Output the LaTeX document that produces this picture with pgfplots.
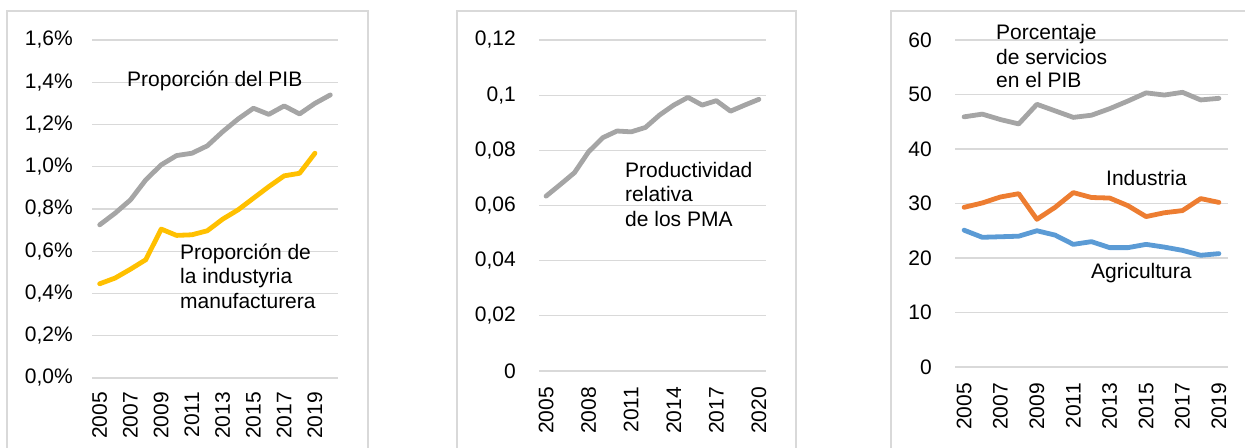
\documentclass[border=0pt]{standalone}
\usepackage{pgfplots}
\pgfplotsset{compat=1.18}
\usepackage{fontspec}
\setmainfont{Liberation Sans}
\definecolor{gridc}{RGB}{217,217,217}
\definecolor{sgrey}{RGB}{165,165,165}
\definecolor{syellow}{RGB}{255,192,0}
\definecolor{sorange}{RGB}{237,125,49}
\definecolor{sblue}{RGB}{91,155,213}
\pgfplotsset{panel/.style={
  scale only axis, anchor=south west, clip=false,
  axis line style={draw=none}, major tick length=0pt,
  ymajorgrids, grid style={gridc, line width=1.2bp},
  tick label style={font=\fontsize{21bp}{24bp}\selectfont, inner sep=0pt},
  /pgf/number format/assume math mode=true,
  xticklabel style={rotate=90, anchor=east},
  yticklabel style={anchor=east},
  scaled y ticks=false,
  every axis plot/.append style={line width=4.8bp, line join=round, line cap=round, mark=none},
}}
\newcommand{\lbl}{\fontsize{21bp}{24bp}\selectfont}
\begin{document}
\begin{tikzpicture}
\path[use as bounding box] (0bp,0bp) rectangle (1245bp,448bp);
\clip (0bp,0bp) rectangle (1245bp,448bp);
\draw[gridc, line width=1.2bp] (7bp,-10bp) rectangle (368bp,437bp);
\draw[gridc, line width=1.2bp] (457bp,-10bp) rectangle (796bp,437bp);
\draw[gridc, line width=1.2bp] (891bp,-10bp) rectangle (1260bp,437bp);

% Panel 1
\begin{axis}[panel, at={(92bp,70bp)}, width=246bp, height=338bp,
  xmin=2004.5, xmax=2020.5, ymin=0, ymax=1.6,
  ytick={0,0.2,0.4,0.6,0.8,1.0,1.2,1.4,1.6},
  yticklabels={{0,0\%},{0,2\%},{0,4\%},{0,6\%},{0,8\%},{1,0\%},{1,2\%},{1,4\%},{1,6\%}},
  xtick={2005,2007,2009,2011,2013,2015,2017,2019},
  xticklabels={2005,2007,2009,2011,2013,2015,2017,2019},
  yticklabel shift=19bp, xticklabel shift=14bp]
\addplot[sgrey] coordinates {(2005,0.725)(2006,0.78)(2007,0.843)(2008,0.938)(2009,1.009)(2010,1.053)(2011,1.064)(2012,1.099)(2013,1.166)(2014,1.226)(2015,1.277)(2016,1.248)(2017,1.288)(2018,1.25)(2019,1.30)(2020,1.34)};
\addplot[syellow] coordinates {(2005,0.446)(2006,0.473)(2007,0.515)(2008,0.56)(2009,0.705)(2010,0.675)(2011,0.678)(2012,0.697)(2013,0.752)(2014,0.796)(2015,0.851)(2016,0.906)(2017,0.957)(2018,0.969)(2019,1.064)};
\end{axis}

% Panel 2
\begin{axis}[panel, at={(539bp,77bp)}, width=227bp, height=331bp,
  xmin=2004.5, xmax=2020.5, ymin=0, ymax=0.12,
  ytick={0,0.02,0.04,0.06,0.08,0.1,0.12},
  yticklabels={0,{0,02},{0,04},{0,06},{0,08},{0,1},{0,12}},
  xtick={2005,2008,2011,2014,2017,2020},
  xticklabels={2005,2008,2011,2014,2017,2020},
  yticklabel shift=23bp, xticklabel shift=16bp]
\addplot[sgrey] coordinates {(2005,0.0634)(2006,0.0676)(2007,0.0719)(2008,0.0795)(2009,0.0846)(2010,0.087)(2011,0.0867)(2012,0.0883)(2013,0.0928)(2014,0.0964)(2015,0.0992)(2016,0.0964)(2017,0.098)(2018,0.0942)(2019,0.0964)(2020,0.0985)};
\end{axis}

% Panel 3
\begin{axis}[panel, at={(955bp,81bp)}, width=273bp, height=327bp,
  xmin=2004.5, xmax=2019.5, ymin=0, ymax=60,
  ytick={0,10,20,30,40,50,60},
  yticklabels={0,10,20,30,40,50,60},
  xtick={2005,2007,2009,2011,2013,2015,2017,2019},
  xticklabels={2005,2007,2009,2011,2013,2015,2017,2019},
  yticklabel shift=23bp, xticklabel shift=16bp]
\addplot[sgrey] coordinates {(2005,45.9)(2006,46.4)(2007,45.4)(2008,44.6)(2009,48.2)(2010,47.0)(2011,45.8)(2012,46.2)(2013,47.4)(2014,48.8)(2015,50.3)(2016,49.9)(2017,50.4)(2018,49.0)(2019,49.3)};
\addplot[sorange] coordinates {(2005,29.3)(2006,30.1)(2007,31.2)(2008,31.8)(2009,27.1)(2010,29.3)(2011,32.0)(2012,31.1)(2013,31.0)(2014,29.6)(2015,27.6)(2016,28.3)(2017,28.7)(2018,30.9)(2019,30.2)};
\addplot[sblue] coordinates {(2005,25.1)(2006,23.8)(2007,23.9)(2008,24.0)(2009,25.0)(2010,24.2)(2011,22.5)(2012,23.0)(2013,21.9)(2014,21.9)(2015,22.5)(2016,22.0)(2017,21.4)(2018,20.5)(2019,20.8)};
\end{axis}

\begin{scope}[every node/.style={anchor=base west, inner sep=0pt, font=\lbl}]
\node at (127bp,361bp) {Proporción del PIB};
\node at (180bp,188bp) {Proporción de};
\node at (180bp,164bp) {la industyria};
\node at (180bp,139bp) {manufacturera};
\node at (625bp,270bp) {Productividad};
\node at (625bp,246bp) {relativa};
\node at (625bp,221bp) {de los PMA};
\node at (996bp,408bp) {Porcentaje};
\node at (996bp,383bp) {de servicios};
\node at (996bp,360bp) {en el PIB};
\node at (1106bp,262bp) {Industria};
\node at (1091bp,169bp) {Agricultura};
\end{scope}
\end{tikzpicture}
\end{document}
